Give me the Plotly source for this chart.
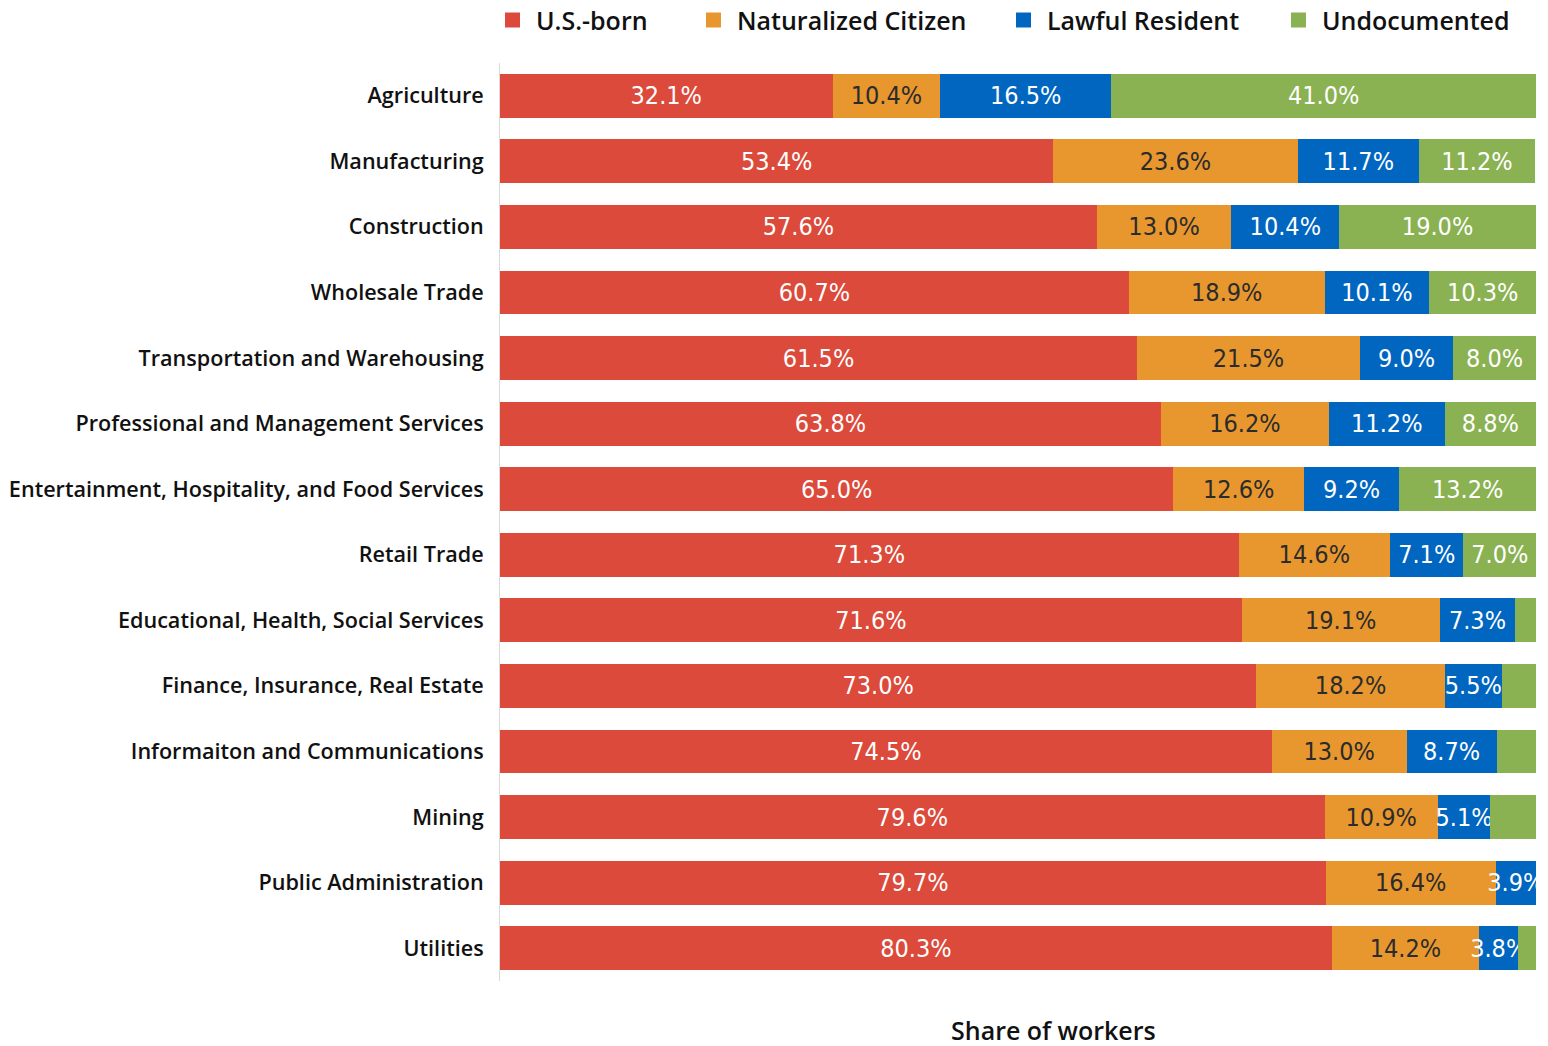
import plotly.graph_objects as go

# Industries, top to bottom
industries = [
    "Agriculture",
    "Manufacturing",
    "Construction",
    "Wholesale Trade",
    "Transportation and Warehousing",
    "Professional and Management Services",
    "Entertainment, Hospitality, and Food Services",
    "Retail Trade",
    "Educational, Health, Social Services",
    "Finance, Insurance, Real Estate",
    "Informaiton and Communications",
    "Mining",
    "Public Administration",
    "Utilities",
]

# Share of workers (%) by nativity / legal status
us_born = [32.1, 53.4, 57.6, 60.7, 61.5, 63.8, 65.0, 71.3, 71.6, 73.0, 74.5, 79.6, 79.7, 80.3]
naturalized = [10.4, 23.6, 13.0, 18.9, 21.5, 16.2, 12.6, 14.6, 19.1, 18.2, 13.0, 10.9, 16.4, 14.2]
lawful = [16.5, 11.7, 10.4, 10.1, 9.0, 11.2, 9.2, 7.1, 7.3, 5.5, 8.7, 5.1, 3.9, 3.8]
undocumented = [41.0, 11.2, 19.0, 10.3, 8.0, 8.8, 13.2, 7.0, 2.0, 3.3, 3.8, 4.4, 0.0, 1.7]

series_names = ["U.S.-born", "Naturalized Citizen", "Lawful Resident", "Undocumented"]
series_values = [us_born, naturalized, lawful, undocumented]
series_colors = ["#DB4A3A", "#E8972F", "#0066BF", "#8AB152"]
label_colors = ["#FFFFFF", "#2B2B2B", "#FFFFFF", "#FFFFFF"]
min_labelled = [0.0, 0.0, 0.0, 5.0]   # thin undocumented slices stay unlabelled

LABEL_FONT = "Liberation Sans Narrow, DejaVu Sans Condensed, Arial Narrow, sans-serif"
TEXT_FONT = "Open Sans, sans-serif"

# figure geometry (pixels)
W, H = 1548, 1046
M_L, M_R, M_T, M_B = 500, 12, 63, 65
PW, PH = W - M_L - M_R, H - M_T - M_B


def px_x(px):
    return (px - M_L) / PW


def px_y(py):
    return (H - M_B - py) / PH


fig = go.Figure()
for name, values, color, text_color, min_label in zip(
        series_names, series_values, series_colors, label_colors, min_labelled):
    labels = [f"{v:.1f}%" if v >= min_label and v > 0 else "" for v in values]
    fig.add_trace(go.Bar(
        name=name,
        y=industries,
        x=values,
        orientation="h",
        marker=dict(color=color, line=dict(width=0)),
        text=labels,
        textposition="inside",
        insidetextanchor="middle",
        textangle=0,
        textfont=dict(family=LABEL_FONT, size=25, color=text_color),
        cliponaxis=True,
        showlegend=False,
    ))

fig.update_layout(
    barmode="stack",
    bargap=0.33,
    width=W,
    height=H,
    margin=dict(l=M_L, r=M_R, t=M_T, b=M_B, autoexpand=False),
    paper_bgcolor="white",
    plot_bgcolor="white",
    uniformtext=dict(minsize=25, mode="show"),
    showlegend=False,
    xaxis=dict(
        range=[0, 100],
        showticklabels=False,
        showgrid=False,
        zeroline=False,
        ticks="",
        fixedrange=True,
        automargin=False,
    ),
    yaxis=dict(
        categoryorder="array",
        categoryarray=industries,
        autorange="reversed",
        showgrid=False,
        showline=True,
        linecolor="#D9D9D9",
        linewidth=1,
        ticks="",
        ticklabelstandoff=11,
        automargin=False,
        tickfont=dict(family=TEXT_FONT, size=21.6, color="#111111", weight=600),
    ),
)

# legend row across the top: colour square followed by the series name
legend_marker_px = [505, 706, 1016, 1291]
legend_y_px = 20
for name, color, mx in zip(series_names, series_colors, legend_marker_px):
    fig.add_shape(
        type="rect", xref="paper", yref="paper",
        x0=px_x(mx), x1=px_x(mx + 15),
        y0=px_y(legend_y_px + 7.5), y1=px_y(legend_y_px - 7.5),
        fillcolor=color, line=dict(width=0),
    )
    fig.add_annotation(
        text=name, xref="paper", yref="paper",
        x=px_x(mx + 29), y=px_y(legend_y_px),
        xanchor="left", yanchor="middle", showarrow=False,
        font=dict(family=TEXT_FONT, size=25, color="#111111", weight=600),
    )

# axis title, centred below the bars
fig.add_annotation(
    text="Share of workers",
    xref="paper", yref="paper",
    x=px_x(1053), y=px_y(1030),
    xanchor="center", yanchor="middle",
    showarrow=False,
    font=dict(family=TEXT_FONT, size=25, color="#111111", weight=600),
)

fig.write_html("out.html")
